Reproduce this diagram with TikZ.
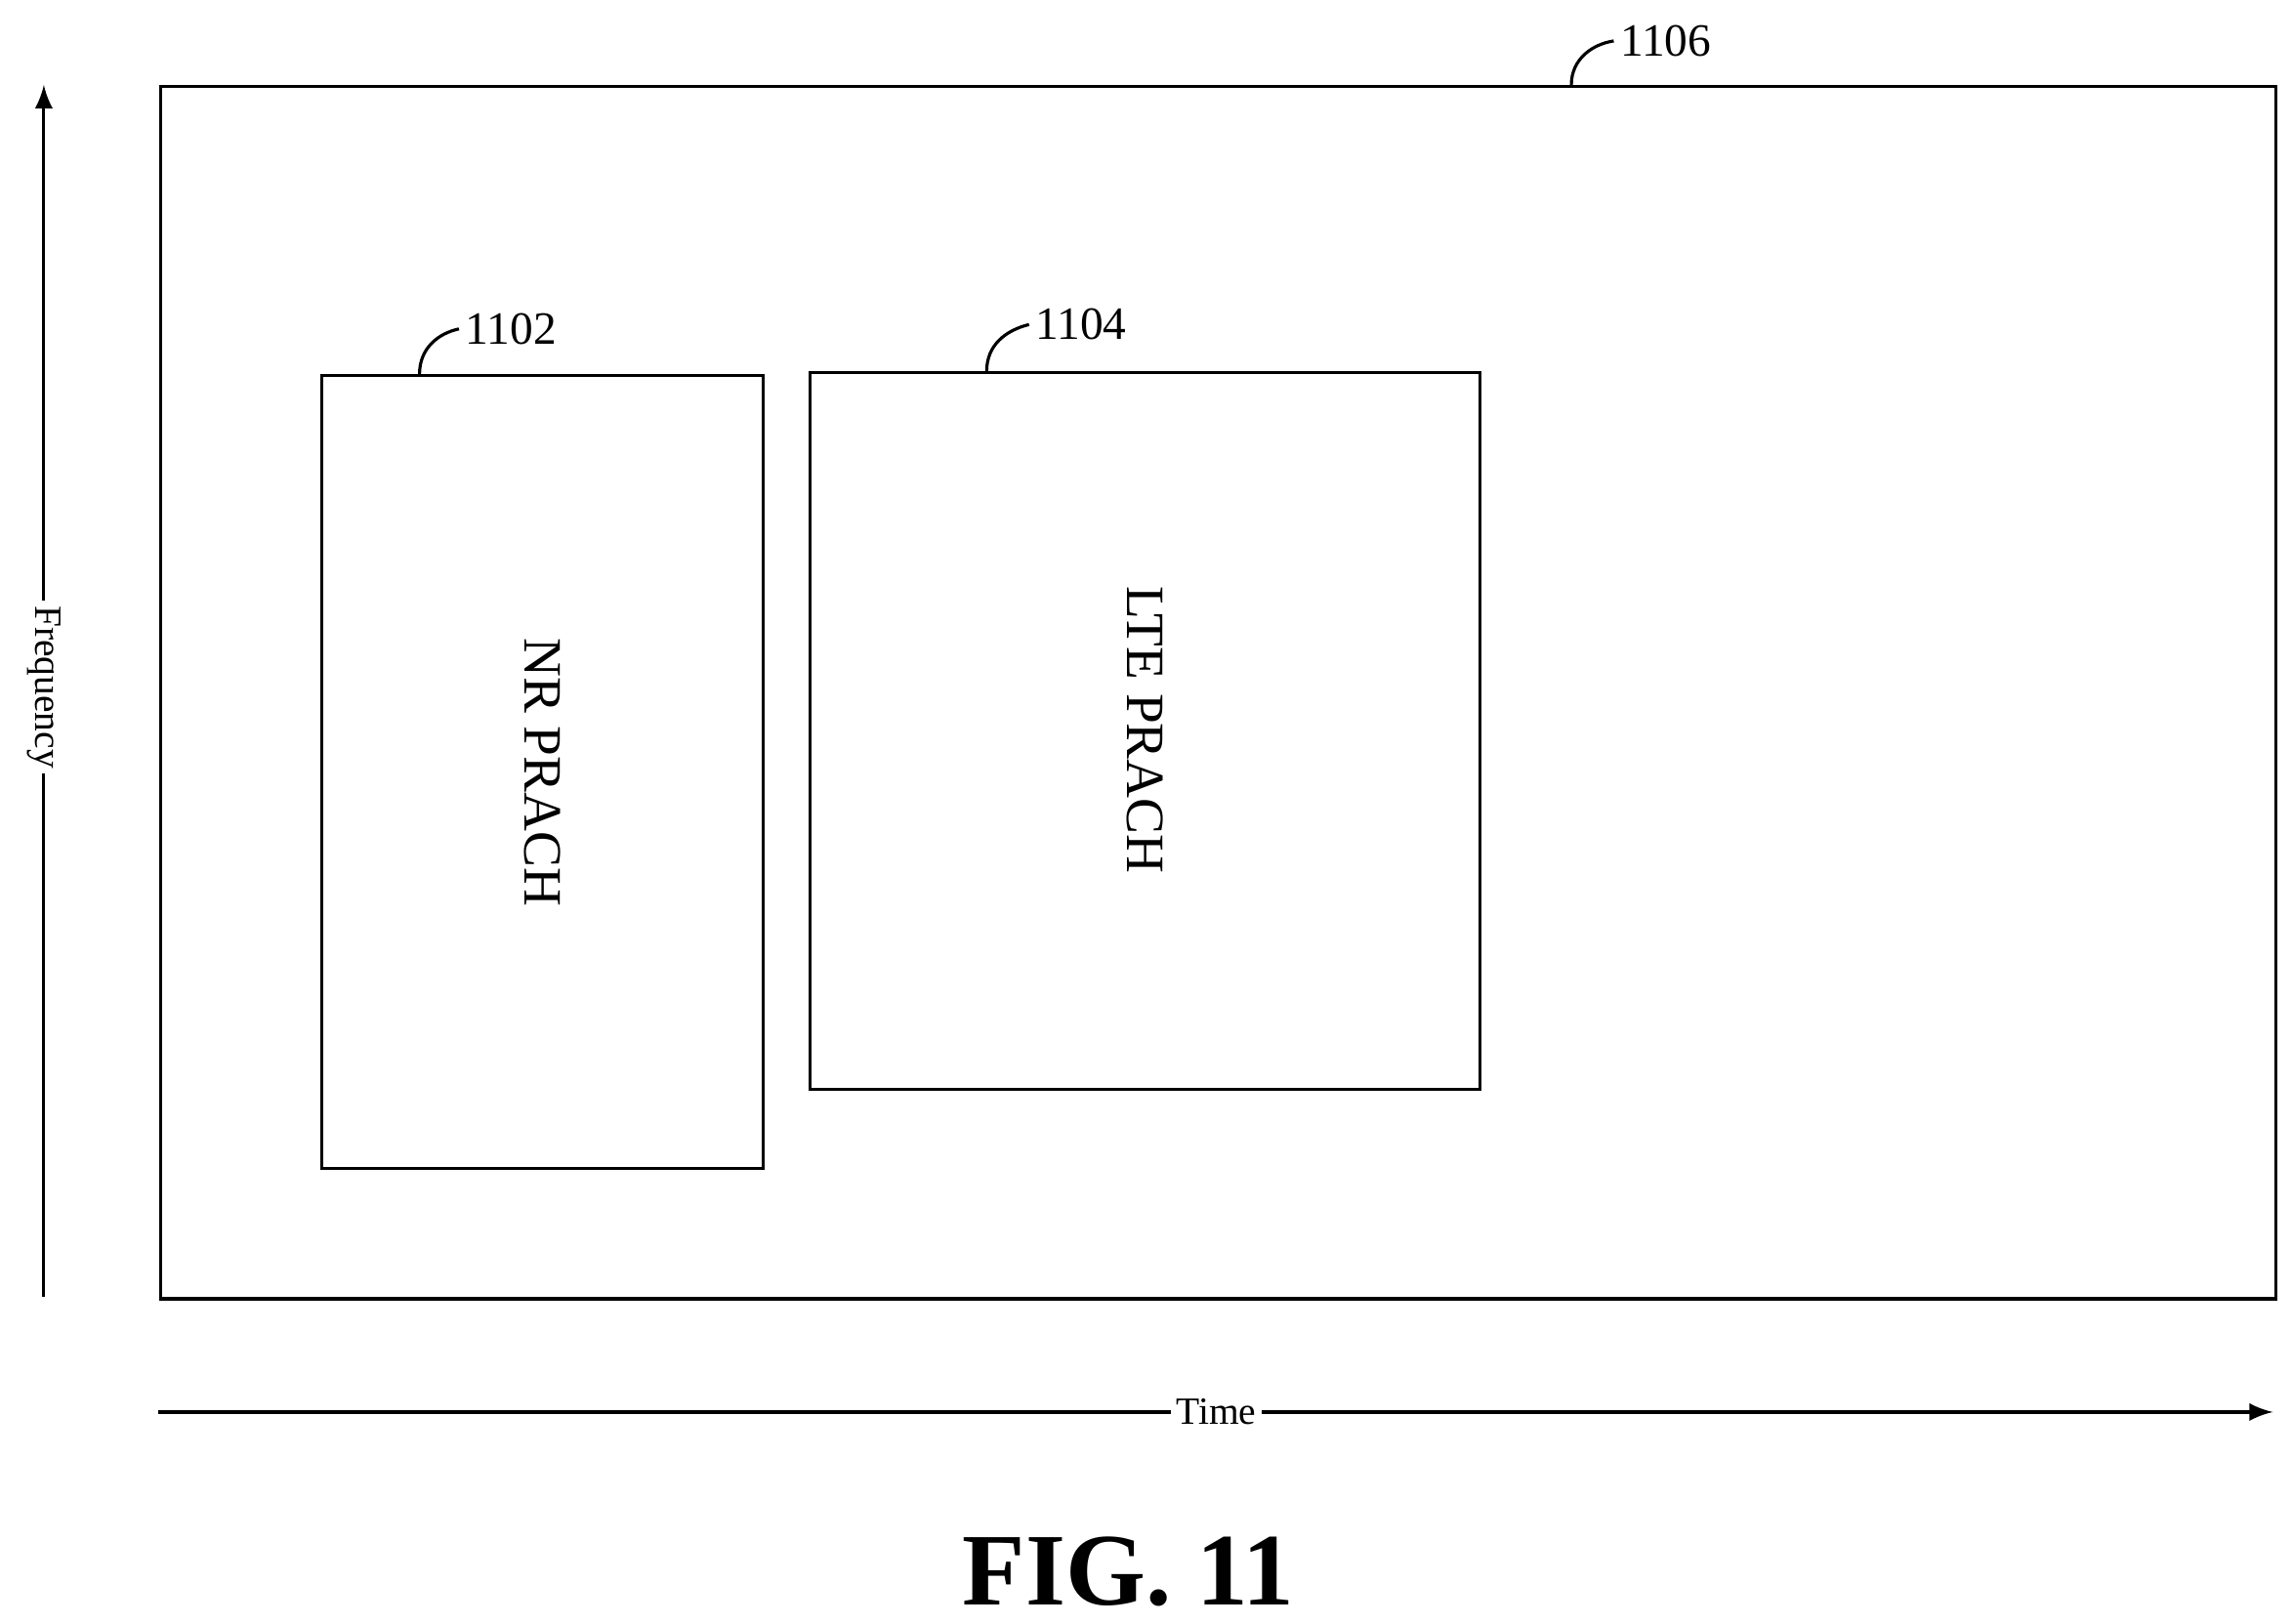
\documentclass[tikz,border=0pt]{standalone}
\usepackage{fontspec}
\setmainfont{Liberation Serif}
\usetikzlibrary{arrows}
\usetikzlibrary{calc}

\begin{document}
\begin{tikzpicture}[x=0.01cm,y=-0.01cm,>=latex,semithick,
  region/.style={draw,rectangle,anchor=north west,inner sep=0pt},
  reflabel/.style={font=\fontsize{9}{9}\selectfont,anchor=west,inner sep=1pt},
  axislabel/.style={fill=white,inner sep=1pt,font=\fontsize{7.5}{7.5}\selectfont}]

  \useasboundingbox (0,0) rectangle (1568,1111);

  % regions
  \node[region,minimum width=14.46cm,minimum height=8.29cm] (grid) at (109,58) {};
  \node[region,minimum width=3.02cm,minimum height=5.42cm] (nr) at (219,256) {};
  \node[region,minimum width=4.58cm,minimum height=4.90cm] (lte) at (553,254) {};
  \node[rotate=-90,font=\fontsize{10.5}{10.5}\selectfont] (nrtext) at (nr.center) {NR PRACH};
  \node[rotate=-90,font=\fontsize{10.5}{10.5}\selectfont] (ltetext) at ($(lte.center)+(0,-1)$) {LTE PRACH};

  % reference numerals
  \node[reflabel] (l1106) at (1104,28) {1106};
  \node[reflabel] (l1102) at (314,225) {1102};
  \node[reflabel] (l1104) at (704,222) {1104};
  \draw (1075,58) .. controls (1075,40) and (1090,30) .. (l1106.west);
  \draw (287,256) .. controls (287,238) and (300,228) .. (l1102.west);
  \draw (675,254) .. controls (675,236) and (688,226) .. (l1104.west);

  % axes
  \coordinate (f0) at (30,887);
  \coordinate (f1) at (30,58);
  \coordinate (t0) at (108,966);
  \coordinate (t1) at (1555,966);
  \draw[->] (f0) -- (f1);
  \draw[->] (t0) -- (t1);
  \node[axislabel,rotate=-90] (freq) at (30,470) {Frequency};
  \node[axislabel] (time) at (832,966) {Time};

  \node[font=\bfseries\fontsize{20}{20}\selectfont] (fig) at (772,1075) {FIG. 11};
\end{tikzpicture}
\end{document}
